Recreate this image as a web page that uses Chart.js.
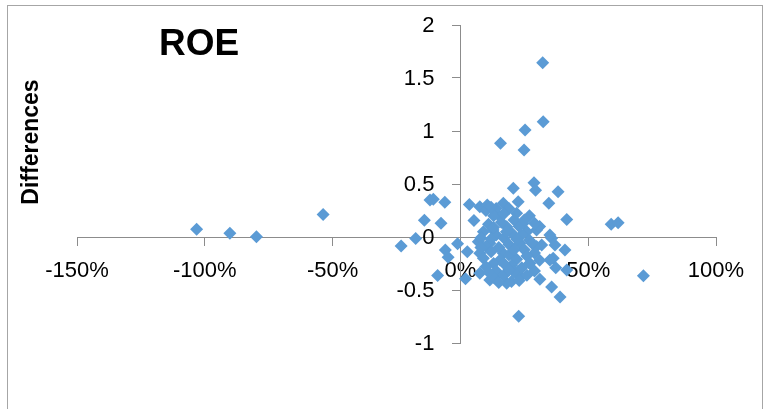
<!DOCTYPE html>
<html>
<head>
<meta charset="utf-8">
<script src="https://cdn.jsdelivr.net/npm/chart.js@4"></script>
<style>
  html, body { margin: 0; padding: 0; background: #fff; overflow: hidden; }
  #wrap { position: relative; width: 768px; height: 409px; }
  #frame { position: absolute; left: 7px; top: 5px; width: 756px; height: 420px; border: 1px solid #a6a6a6; box-sizing: border-box; }
  #roe { position: absolute; left: 0; top: 0; }
</style>
</head>
<body>
<div id="wrap">
  <div id="frame"></div>
  <canvas id="roe" width="768" height="409"></canvas>
</div>
<script>
// ROE (x, as fraction) against differences (y)
const roeValues = [
  -1.032, -0.902, -0.798, -0.537,
  0.59, 0.617, 0.716,
  0.322, 0.324, 0.253, 0.157, 0.249,
  0.207, 0.288, 0.294, 0.382, 0.346, 0.416,
  -0.119, -0.106, -0.061, -0.141, -0.076, -0.175, -0.232, -0.011, -0.059, -0.048, -0.089,
  0.027, 0.02, 0.035, 0.076, 0.105, 0.053, 0.07,
  0.311, 0.357, 0.39, 0.228, 0.363, 0.409, 0.373, 0.416, 0.357, 0.37, 0.318, 0.35,
  0.168, 0.226, 0.155, 0.22, 0.246, 0.298, 0.128, 0.181, 0.115, 0.233, 0.298, 0.076, 0.168,
  0.076, 0.181, 0.233, 0.115, 0.272, 0.35, 0.155,
  0.10, 0.14, 0.19, 0.13, 0.27, 0.11, 0.16, 0.21, 0.26, 0.31, 0.09, 0.14, 0.20, 0.24,
  0.08, 0.12, 0.17, 0.22, 0.27, 0.10, 0.15, 0.19, 0.25, 0.29, 0.09, 0.13, 0.19, 0.22,
  0.26, 0.31, 0.10, 0.14, 0.20, 0.24, 0.29, 0.13, 0.17, 0.21, 0.26, 0.15, 0.20,
  0.12, 0.17, 0.23, 0.18, 0.28, 0.12, 0.21, 0.17, 0.27, 0.11, 0.23, 0.19, 0.25, 0.29, 0.13, 0.08
];
const diffValues = [
  0.073, 0.035, 0.003, 0.213,
  0.12, 0.135, -0.365,
  1.644, 1.088, 1.009, 0.884, 0.821,
  0.459, 0.512, 0.44, 0.428, 0.318, 0.164,
  0.349, 0.356, 0.327, 0.157, 0.129, -0.013, -0.085, -0.063, -0.123, -0.192, -0.363,
  -0.138, -0.395, 0.307, 0.286, 0.302, 0.155, -0.044,
  -0.399, -0.472, -0.566, -0.747, -0.2, -0.123, -0.29, -0.311, -0.012, -0.075, -0.075, 0.019,
  0.318, 0.333, 0.192, 0.224, 0.129, 0.066, 0.066, 0.097, -0.06, -0.06, -0.09, -0.154, -0.154,
  -0.343, -0.437, -0.374, -0.406, -0.248, -0.217, -0.217,
  0.25, 0.27, 0.27, 0.20, 0.20, 0.12, 0.14, 0.16, 0.05, 0.10, 0.05, 0.02, 0.04, 0.02,
  -0.01, -0.02, -0.01, -0.02, -0.03, -0.09, -0.10, -0.07, -0.12, -0.15, -0.20, -0.25, -0.17, -0.21,
  -0.18, -0.22, -0.28, -0.32, -0.27, -0.29, -0.32, -0.38, -0.36, -0.33, -0.36, -0.43, -0.42,
  0.28, 0.22, 0.10, 0.05, -0.06, -0.14, -0.12, -0.25, -0.25, -0.33, -0.41, -0.31, 0.16, 0.13, 0.09, -0.10
];
const xTicks = [-1.5, -1, -0.5, 0, 0.5, 1];
const yTicks = [-1, -0.5, 0, 0.5, 1, 1.5, 2];
const yTickLabels = ['-1', '-0.5', '0', '0.5', '1', '1.5', '2'];
const chartTitle = 'ROE';
const yTitle = 'Differences';

const points = roeValues.map((x, i) => ({ x, y: diffValues[i] }));
const fontFamily = '"Liberation Sans", Arial, sans-serif';

// title, axis title and y labels sit over the plot, so draw them by hand
const overlay = {
  id: 'overlay',
  afterDatasetsDraw(chart) {
    const ctx = chart.ctx;
    const area = chart.chartArea;
    const xs = chart.scales.x, ys = chart.scales.y;
    ctx.save();
    ctx.fillStyle = '#000';

    // y tick labels, left of the crossing axis
    ctx.font = '22px ' + fontFamily;
    ctx.textAlign = 'right';
    ctx.textBaseline = 'middle';
    const labelX = xs.getPixelForValue(0) - 8 - 18;
    yTicks.forEach((v, i) => ctx.fillText(yTickLabels[i], labelX, ys.getPixelForValue(v) + 1));

    ctx.font = 'bold 37px ' + fontFamily;
    ctx.textAlign = 'center';
    ctx.textBaseline = 'alphabetic';
    ctx.fillText(chartTitle, area.left + 122, area.top + 30);

    ctx.font = 'bold 23px ' + fontFamily;
    ctx.translate(32, area.top + 117);
    ctx.rotate(-Math.PI / 2);
    ctx.textBaseline = 'middle';
    ctx.fillText(yTitle, 0, 0);
    ctx.restore();
  }
};

const tickFont = { family: fontFamily, size: 22 };
const axisGrey = '#8c8c8c';

new Chart(document.getElementById('roe'), {
  type: 'scatter',
  data: {
    datasets: [{
      data: points,
      pointStyle: 'rectRot',
      pointRadius: 6.5,
      pointHoverRadius: 6.5,
      backgroundColor: '#5b9bd5',
      borderColor: '#5b9bd5',
      borderWidth: 0
    }]
  },
  options: {
    responsive: false,
    animation: false,
    devicePixelRatio: 1,
    layout: { padding: { left: 77, right: 52, top: 25, bottom: 66 } },
    plugins: {
      legend: { display: false },
      tooltip: { enabled: false }
    },
    scales: {
      x: {
        type: 'linear',
        min: -1.5,
        max: 1,
        position: { y: 0 },
        afterBuildTicks: axis => { axis.ticks = xTicks.map(v => ({ value: v })); },
        ticks: {
          font: tickFont,
          color: '#000',
          padding: 13,
          maxRotation: 0,
          callback: v => Math.round(v * 100) + '%'
        },
        grid: { drawOnChartArea: false, drawTicks: true, tickLength: 8, color: axisGrey, lineWidth: 1 },
        border: { display: true, color: axisGrey, width: 1 }
      },
      y: {
        type: 'linear',
        min: -1,
        max: 2,
        position: { x: 0 },
        afterBuildTicks: axis => { axis.ticks = yTicks.map(v => ({ value: v })); },
        ticks: { display: false },
        grid: { drawOnChartArea: false, drawTicks: true, tickLength: 8, color: axisGrey, lineWidth: 1 },
        border: { display: true, color: axisGrey, width: 1 }
      }
    }
  },
  plugins: [overlay]
});
</script>
</body>
</html>
